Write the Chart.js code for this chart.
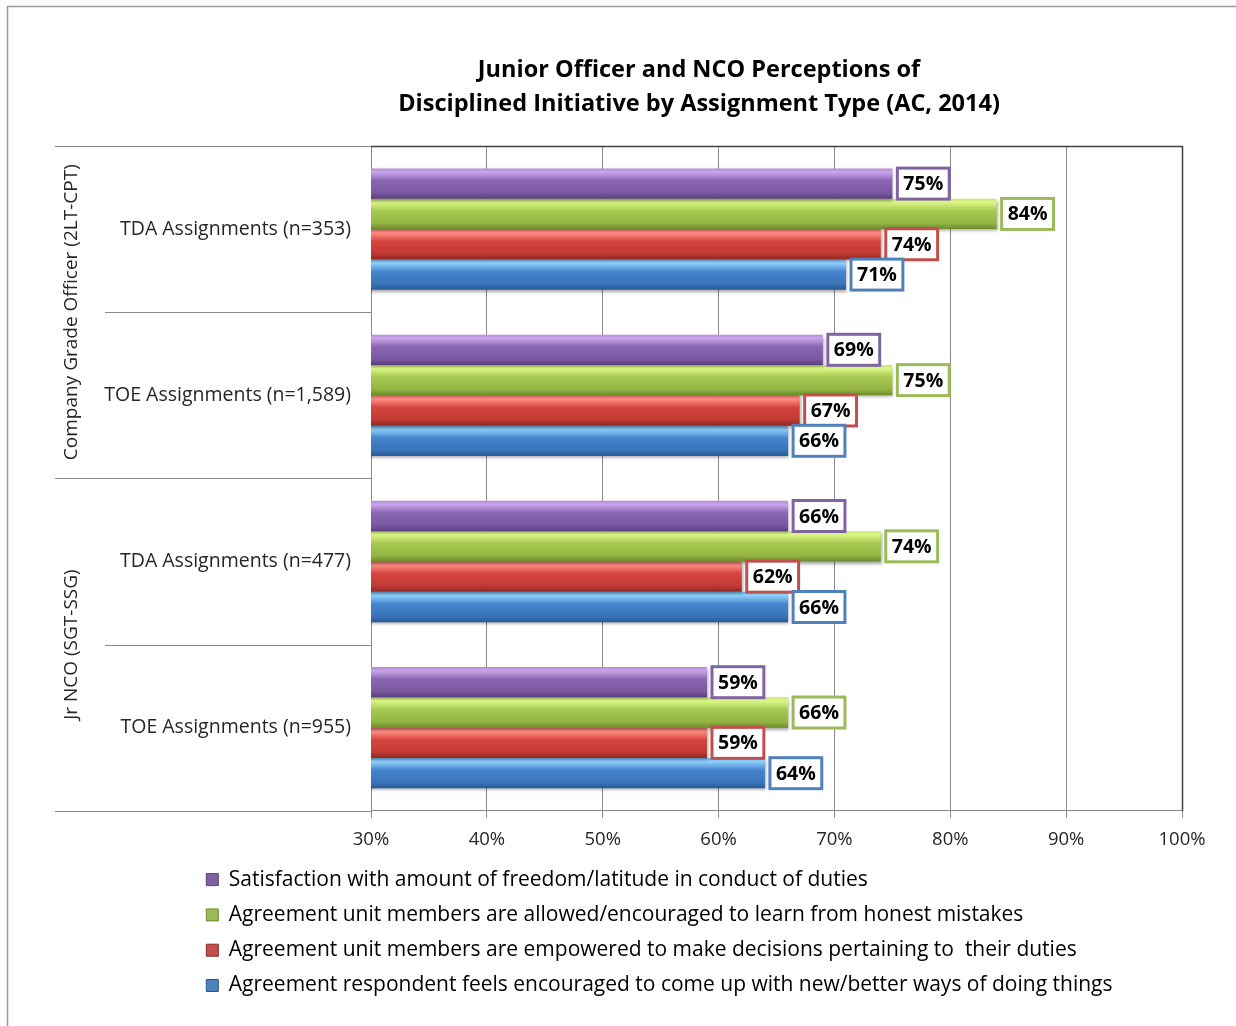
<!DOCTYPE html>
<html>
<head>
<meta charset="utf-8">
<script src="https://cdn.jsdelivr.net/npm/chart.js@4.4.1/dist/chart.umd.min.js"></script>
<style>
  html, body { margin: 0; padding: 0; background: #fff; }
  #wrap { position: relative; width: 1236px; height: 1026px; }
</style>
</head>
<body>
<div id="wrap"><canvas id="perceptionChart"></canvas></div>
<script>
// ── Data ─────────────────────────────────────
const categories = ['TDA Assignments (n=353)', 'TOE Assignments (n=1,589)', 'TDA Assignments (n=477)', 'TOE Assignments (n=955)'];
const groupLabels = ['Company Grade Officer (2LT-CPT)', 'Jr NCO (SGT-SSG)'];
const seriesNames = [
  'Satisfaction with amount of freedom/latitude in conduct of duties',
  'Agreement unit members are allowed/encouraged to learn from honest mistakes',
  'Agreement unit members are empowered to make decisions pertaining to  their duties',
  'Agreement respondent feels encouraged to come up with new/better ways of doing things'
];
const satisfaction = [75, 69, 66, 59];
const learnFromMistakes = [84, 75, 74, 66];
const empowered = [74, 67, 62, 59];
const newWays = [71, 66, 66, 64];
const titleLines = ['Junior Officer and NCO Perceptions of', 'Disciplined Initiative by Assignment Type (AC, 2014)'];

// ── Styling ──────────────────────────────────
const FONT = '"Open Sans", "Noto Sans", sans-serif';
const baseColors = ['#8064a2', '#9bbb59', '#c0504d', '#4f81bd'];
const shades = [
  ['#b58ad8', '#c9a6ea', '#8a66b2', '#7b58a2', '#5b3e7e'],
  ['#c8e870', '#dcf686', '#a6c950', '#94b544', '#6b8a2a'],
  ['#f47a72', '#ff8d85', '#d6453f', '#c23a35', '#8f2723'],
  ['#72b6ee', '#8fd0fb', '#4585cf', '#3a74b9', '#275a93']
];

const seriesData = [satisfaction, learnFromMistakes, empowered, newWays];

// bevel gradient + shadow on every bar
const bevelPlugin = {
  id: 'bevel',
  beforeDatasetsDraw(chart) {
    const ctx = chart.ctx;
    chart.data.datasets.forEach((ds, di) => {
      const s = shades[di];
      chart.getDatasetMeta(di).data.forEach(bar => {
        const t = bar.y - bar.height / 2, b = bar.y + bar.height / 2;
        const g = ctx.createLinearGradient(0, t, 0, b);
        g.addColorStop(0, s[0]);
        g.addColorStop(0.12, s[1]);
        g.addColorStop(0.4, s[2]);
        g.addColorStop(0.8, s[3]);
        g.addColorStop(1, s[4]);
        bar.options.backgroundColor = g;
      });
    });
  },
  beforeDatasetDraw(chart) {
    const ctx = chart.ctx;
    ctx.save();
    ctx.shadowColor = 'rgba(0,0,0,0.35)';
    ctx.shadowOffsetX = 1;
    ctx.shadowOffsetY = 2;
    ctx.shadowBlur = 3;
  },
  afterDatasetDraw(chart) {
    chart.ctx.restore();
  }
};

// boxed value labels
const valueLabelPlugin = {
  id: 'valueLabels',
  afterDatasetsDraw(chart) {
    const ctx = chart.ctx;
    ctx.save();
    ctx.font = 'bold 19.5px ' + FONT;
    ctx.textAlign = 'center';
    ctx.textBaseline = 'middle';
    chart.data.datasets.forEach((ds, di) => {
      chart.getDatasetMeta(di).data.forEach((bar, i) => {
        const txt = ds.data[i] + '%';
        const w = ctx.measureText(txt).width + 12;
        const h = 31;
        const left = bar.x + 5;
        const top = bar.y - h / 2;
        ctx.fillStyle = '#fff';
        ctx.fillRect(left, top, w, h);
        ctx.lineWidth = 3;
        ctx.strokeStyle = baseColors[di];
        ctx.strokeRect(left, top, w, h);
        ctx.fillStyle = '#000';
        ctx.fillText(txt, left + w / 2, bar.y + 1);
      });
    });
    ctx.restore();
  }
};

// frame, separators, group labels, title
const decorPlugin = {
  id: 'decor',
  afterLayout(chart) {
    if (chart.legend) chart.legend.left = 192;
  },
  afterDraw(chart) {
    const ctx = chart.ctx;
    const { top, bottom, left, right } = chart.chartArea;
    const y = chart.scales.y;
    const line = (x1, y1, x2, y2, color, w) => {
      ctx.beginPath();
      ctx.strokeStyle = color;
      ctx.lineWidth = w || 1;
      ctx.moveTo(x1, y1);
      ctx.lineTo(x2, y2);
      ctx.stroke();
    };
    ctx.save();
    // outer frame
    line(7.5, 6, 7.5, 1026, '#9a9a9a', 1.5);
    line(7, 6.5, 1236, 6.5, '#9a9a9a', 1.5);
    // plot frame
    line(55, Math.round(top) + 0.5, left, Math.round(top) + 0.5, '#8a8a8a');
    line(left, Math.round(top) + 0.5, right, Math.round(top) + 0.5, '#404040', 1.5);
    line(Math.round(right) + 0.5, top, Math.round(right) + 0.5, bottom, '#404040', 1.5);
    line(55, Math.round(bottom) + 0.5, left, Math.round(bottom) + 0.5, '#8a8a8a');
    // category separators
    for (let i = 0; i < categories.length - 1; i++) {
      const yy = Math.round((y.getPixelForValue(i) + y.getPixelForValue(i + 1)) / 2) + 0.5;
      line(i === 1 ? 55 : 105, yy, left, yy, '#8a8a8a');
    }
    // group labels
    ctx.font = '19px ' + FONT;
    ctx.fillStyle = '#262626';
    ctx.textAlign = 'center';
    ctx.textBaseline = 'middle';
    groupLabels.forEach((g, gi) => {
      const a = y.getPixelForValue(gi * 2), b = y.getPixelForValue(gi * 2 + 1);
      const cy = (a + b) / 2;
      ctx.save();
      ctx.translate(72, cy);
      ctx.rotate(-Math.PI / 2);
      ctx.fillText(g, 0, 0);
      ctx.restore();
    });
    // title
    ctx.font = 'bold 23.5px ' + FONT;
    ctx.fillStyle = '#000';
    titleLines.forEach((t, i) => ctx.fillText(t, 699, 70 + i * 34));
    ctx.restore();
  }
};

const ctx = document.getElementById('perceptionChart');

new Chart(ctx, {
  type: 'bar',
  data: {
    labels: categories,
    datasets: seriesData.map((d, i) => ({
      label: seriesNames[i],
      data: d,
      backgroundColor: c => baseColors[c.datasetIndex],
      borderWidth: 0,
      categoryPercentage: 0.73,
      barPercentage: 1.0
    }))
  },
  options: {
    indexAxis: 'y',
    responsive: true,
    maintainAspectRatio: false,
    animation: false,
    layout: { padding: { top: 146, right: 54, bottom: 20, left: 0 } },
    plugins: {
      title: { display: false },
      tooltip: { enabled: false },
      legend: {
        position: 'bottom',
        align: 'start',
        labels: {
          color: '#262626',
          font: { family: FONT, size: 21 },
          boxWidth: 12,
          boxHeight: 12,
          padding: 14.3,
          generateLabels: chart => chart.data.datasets.map((ds, i) => ({
            text: ds.label,
            fillStyle: baseColors[i],
            strokeStyle: shades[i][4],
            lineWidth: 1,
            datasetIndex: i
          }))
        }
      }
    },
    scales: {
      x: {
        min: 30,
        max: 100,
        ticks: {
          stepSize: 10,
          color: '#262626',
          font: { family: FONT, size: 18.5 },
          padding: 11,
          callback: v => v + '%'
        },
        grid: { color: '#8a8a8a', tickLength: 7, lineWidth: 1 },
        border: { display: true, color: '#8a8a8a' },
        afterFit: s => { s.height = 44; }
      },
      y: {
        ticks: {
          color: '#262626',
          font: { family: FONT, size: 19.5 },
          padding: 12
        },
        grid: { display: false },
        border: { display: true, color: '#8a8a8a' },
        afterFit: s => { s.width = 371; }
      }
    }
  },
  plugins: [bevelPlugin, valueLabelPlugin, decorPlugin]
});
</script>
</body>
</html>
